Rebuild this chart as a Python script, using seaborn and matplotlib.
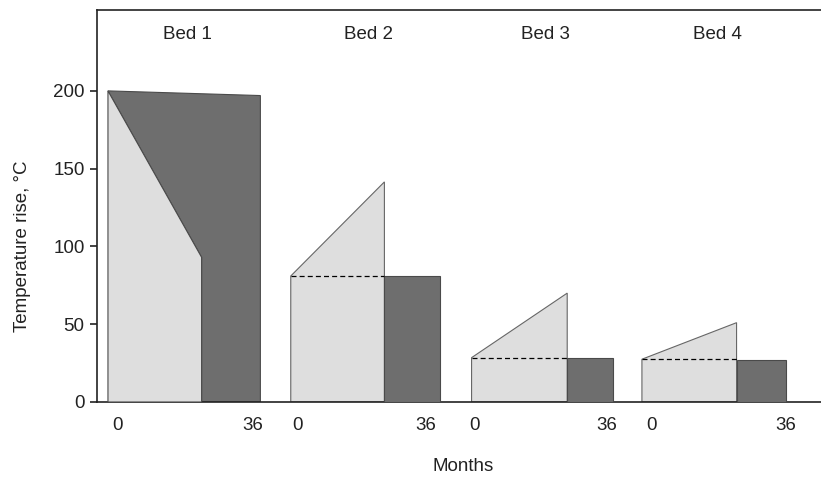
import numpy as np
import pandas as pd
import matplotlib
matplotlib.use('Agg')
import matplotlib.pyplot as plt
import seaborn as sns

# Beds and their horizontal layout (x in axis units)
beds = ['Bed 1', 'Bed 2', 'Bed 3', 'Bed 4']
bed_start = [11, 194.5, 376, 547]
bed_split = [105, 288.5, 472, 642]
bed_end = [164, 344, 518, 692]

# Temperature rise, °C
light_start = [200, 81, 28.5, 27.5]
light_end = [93, 141.5, 70, 51]
dark_start = [200, 81, 28.5, 27]
dark_end = [197, 81, 28.5, 27]

# Month tick labels under each bed
month_pos = [21, 156, 201, 330, 379, 512, 557, 691]
month_labels = ['0', '36'] * 4

sns.set_theme(style='ticks')
plt.rcParams['font.family'] = ['Liberation Sans', 'DejaVu Sans']

light_col = '#dedede'
dark_col = '#6e6e6e'
edge_col = '#4a4a4a'
fs = 13.5

fig = plt.figure(figsize=(8.21, 4.78), dpi=100)
ax = fig.add_axes([97 / 821, 76 / 478, 1 - 97 / 821 + 0.01, (402 - 10) / 478])

for i, name in enumerate(beds):
    x0, x1, x2 = bed_start[i], bed_split[i], bed_end[i]
    if i == 0:
        # dark wedge fills everything above the falling light edge
        ax.fill([x0, x2, x2, x1, x1], [dark_start[i], dark_end[i], 0, 0, light_end[i]],
                facecolor=dark_col, edgecolor=edge_col, lw=0.8, zorder=2)
        ax.fill([x0, x0, x1, x1], [0, light_start[i], light_end[i], 0],
                facecolor=light_col, edgecolor=edge_col, lw=0.8, zorder=3)
    else:
        ax.fill([x0, x0, x1, x1], [0, light_start[i], light_end[i], 0],
                facecolor=light_col, edgecolor='#666666', lw=0.8, zorder=2)
        ax.fill([x1, x1, x2, x2], [0, dark_start[i], dark_end[i], 0],
                facecolor=dark_col, edgecolor=edge_col, lw=0.8, zorder=3)
        ref = pd.DataFrame({'x': [x0, x1], 'y': [light_start[i], light_start[i]]})
        sns.lineplot(data=ref, x='x', y='y', color='black', lw=0.9,
                     linestyle=(0, (4, 2.5)), ax=ax, zorder=4)
    ax.text((x0 + x2) / 2 + 3, 236.5, name, ha='center', va='center', fontsize=fs, color='#222222')

ax.set_xlim(0, 735)
ax.set_ylim(0, 252)
ax.set_yticks([0, 50, 100, 150, 200])
ax.set_xticks(month_pos)
ax.set_xticklabels(month_labels)
ax.tick_params(axis='x', length=0, pad=11, labelsize=fs, colors='#222222')
ax.tick_params(axis='y', length=5, width=1.2, pad=4, labelsize=fs, colors='#222222')
ax.set_xlabel('Months', fontsize=fs, labelpad=17, color='#222222')
ax.set_ylabel('Temperature rise, °C', fontsize=fs, color='#222222')
ax.yaxis.set_label_coords(-0.09, 0.398)

for side in ['left', 'top', 'bottom']:
    ax.spines[side].set_linewidth(1.2)
    ax.spines[side].set_color('#222222')
ax.spines['right'].set_visible(False)

fig.savefig('out.png', dpi=100)
